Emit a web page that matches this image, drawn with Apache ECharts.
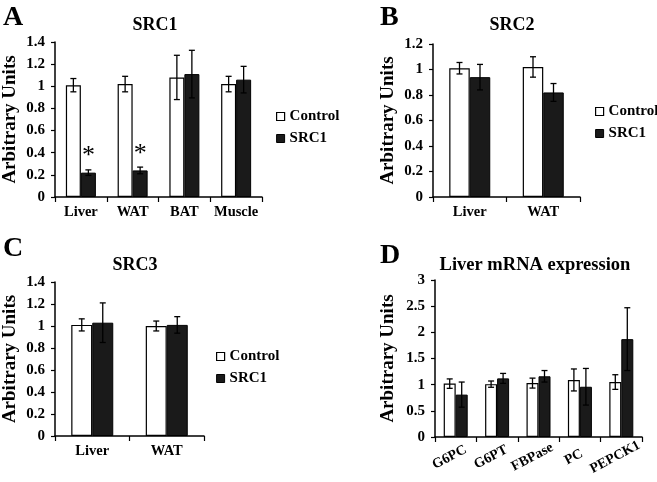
<!DOCTYPE html>
<html>
<head>
<meta charset="utf-8">
<script src="https://cdn.jsdelivr.net/npm/echarts@6/dist/echarts.min.js"></script>
<style>html,body{margin:0;padding:0;background:#fff}#c{width:657px;height:482px}</style>
</head>
<body>
<div id="c"></div>
<script>
// ---- Data ----
const catsA = ['Liver', 'WAT', 'BAT', 'Muscle'];
const ctrlA = [1.01, 1.02, 1.08, 1.02];
const ctrlErrA = [0.06, 0.07, 0.20, 0.07];
const src1A = [0.22, 0.24, 1.11, 1.06];
const src1ErrA = [0.025, 0.03, 0.215, 0.12];
const starA = ['*', '*', '', ''];

const catsB = ['Liver', 'WAT'];
const ctrlB = [1.01, 1.02];
const ctrlErrB = [0.045, 0.08];
const src1B = [0.94, 0.82];
const src1ErrB = [0.10, 0.07];

const catsC = ['Liver', 'WAT'];
const ctrlC = [1.01, 1.00];
const ctrlErrC = [0.055, 0.045];
const src1C = [1.03, 1.01];
const src1ErrC = [0.18, 0.075];

const catsD = ['G6PC', 'G6PT', 'FBPase', 'PC', 'PEPCK1'];
const ctrlD = [1.02, 1.01, 1.03, 1.09, 1.05];
const ctrlErrD = [0.09, 0.06, 0.095, 0.21, 0.14];
const src1D = [0.81, 1.12, 1.16, 0.96, 1.87];
const src1ErrD = [0.24, 0.095, 0.11, 0.35, 0.60];

const titles = ['SRC1', 'SRC2', 'SRC3', 'Liver mRNA expression'];
const letters = ['A', 'B', 'C', 'D'];
const seriesNames = ['Control', 'SRC1'];
const yName = 'Arbitrary Units';

// ---- Styling ----
const FF = 'Liberation Serif';
const txt = (size, weight) => ({ fontFamily: FF, fontSize: size, fontWeight: weight || 'bold', color: '#000' });

const grids = [
  { left: 53, top: 42, width: 209, height: 155 },
  { left: 433, top: 44, width: 147, height: 153 },
  { left: 53, top: 282, width: 151, height: 154 },
  { left: 435, top: 280, width: 207, height: 157 }
];
const barW = [15, 20.5, 21, 12];
const yMax = [1.4, 1.2, 1.4, 3];
const yInt = [0.2, 0.2, 0.2, 0.5];
const nameGaps = [35, 35, 35, 37];
const cats = [catsA, catsB, catsC, catsD];
const ctrl = [ctrlA, ctrlB, ctrlC, ctrlD];
const ctrlErr = [ctrlErrA, ctrlErrB, ctrlErrC, ctrlErrD];
const src1 = [src1A, src1B, src1C, src1D];
const src1Err = [src1ErrA, src1ErrB, src1ErrC, src1ErrD];

function errRender(offset) {
  return function (params, api) {
    const x = api.value(0), v = api.value(1), e = api.value(2);
    const t = api.coord([x, v + e]);
    const b = api.coord([x, v - e]);
    const cx = t[0] + offset;
    const cap = 3;
    const st = { stroke: '#000', lineWidth: 1.3 };
    return {
      type: 'group',
      children: [
        { type: 'line', shape: { x1: cx, y1: t[1], x2: cx, y2: b[1] }, style: st },
        { type: 'line', shape: { x1: cx - cap, y1: t[1], x2: cx + cap, y2: t[1] }, style: st },
        { type: 'line', shape: { x1: cx - cap, y1: b[1], x2: cx + cap, y2: b[1] }, style: st }
      ]
    };
  };
}

const xAxes = [], yAxes = [], series = [];
for (let i = 0; i < 4; i++) {
  xAxes.push({
    type: 'category', gridIndex: i, data: cats[i],
    axisLine: { lineStyle: { color: '#000', width: 1.5 } },
    axisTick: { show: true, length: 5, interval: 0, lineStyle: { color: '#000', width: 1.2 } },
    axisLabel: Object.assign(txt(i === 3 ? 14 : 14.5), i === 3
      ? { rotate: 28, align: 'center', verticalAlign: 'middle', margin: 17, padding: [0, 14, 0, 0], interval: 0 }
      : { margin: 8, interval: 0 })
  });
  yAxes.push({
    type: 'value', gridIndex: i, min: 0, max: yMax[i], interval: yInt[i],
    name: yName, nameLocation: 'middle', nameGap: nameGaps[i], nameTextStyle: txt(19),
    axisLine: { show: true, lineStyle: { color: '#000', width: 1.5 } },
    axisTick: { show: true, length: 4, lineStyle: { color: '#000', width: 1.2 } },
    splitLine: { show: false },
    axisLabel: Object.assign(txt(15), { margin: 10 })
  });
  series.push({
    name: seriesNames[0], type: 'bar', xAxisIndex: i, yAxisIndex: i,
    data: ctrl[i], barWidth: barW[i], barGap: '0%',
    itemStyle: { color: '#fff', borderColor: '#000', borderWidth: 1.2 }
  });
  const sData = src1[i].map((v, j) => {
    if (i === 0 && starA[j]) {
      return { value: v, label: { show: true, formatter: starA[j], position: 'top', distance: 3, fontFamily: FF, fontSize: 26, fontWeight: 'normal', color: '#000' } };
    }
    return v;
  });
  series.push({
    name: seriesNames[1], type: 'bar', xAxisIndex: i, yAxisIndex: i,
    data: sData, barWidth: barW[i], barGap: '0%',
    itemStyle: { color: '#1a1a1a', borderColor: '#000', borderWidth: 1 }
  });
  series.push({
    name: 'errC' + i, type: 'custom', xAxisIndex: i, yAxisIndex: i, z: 5,
    renderItem: errRender(-barW[i] / 2),
    data: ctrl[i].map((v, j) => [j, v, ctrlErr[i][j]])
  });
  series.push({
    name: 'errS' + i, type: 'custom', xAxisIndex: i, yAxisIndex: i, z: 5,
    renderItem: errRender(barW[i] / 2),
    data: src1[i].map((v, j) => [j, v, src1Err[i][j]])
  });
}

const legendData = [
  { name: seriesNames[0], itemStyle: { color: '#fff', borderColor: '#000', borderWidth: 1.2 } },
  { name: seriesNames[1], itemStyle: { color: '#1a1a1a', borderColor: '#000', borderWidth: 1 } }
];
const mkLegend = (left, top) => ({
  orient: 'vertical', left: left, top: top, data: legendData, icon: 'rect',
  itemWidth: 8, itemHeight: 8, itemGap: 7, padding: 0,
  textStyle: txt(15), selectedMode: false
});

const option = {
  backgroundColor: '#fff',
  animation: false,
  title: [
    { text: letters[0], left: 3, top: 4, padding: 0, textStyle: txt(28) },
    { text: letters[1], left: 380, top: 4, padding: 0, textStyle: txt(28) },
    { text: letters[2], left: 3, top: 235, padding: 0, textStyle: txt(28) },
    { text: letters[3], left: 380, top: 242, padding: 0, textStyle: txt(28) },
    { text: titles[0], left: 155, textAlign: 'center', top: 16, padding: 0, textStyle: txt(18) },
    { text: titles[1], left: 512, textAlign: 'center', top: 16, padding: 0, textStyle: txt(18) },
    { text: titles[2], left: 135, textAlign: 'center', top: 256, padding: 0, textStyle: txt(18) },
    { text: titles[3], left: 535, textAlign: 'center', top: 256, padding: 0, textStyle: txt(18.5) }
  ],
  legend: [mkLegend(276, 109), mkLegend(595, 104), mkLegend(216, 349)],
  grid: grids,
  xAxis: xAxes,
  yAxis: yAxes,
  series: series
};

const chart = echarts.init(document.getElementById('c'), null, { renderer: 'canvas' });
chart.setOption(option);
</script>
</body>
</html>
